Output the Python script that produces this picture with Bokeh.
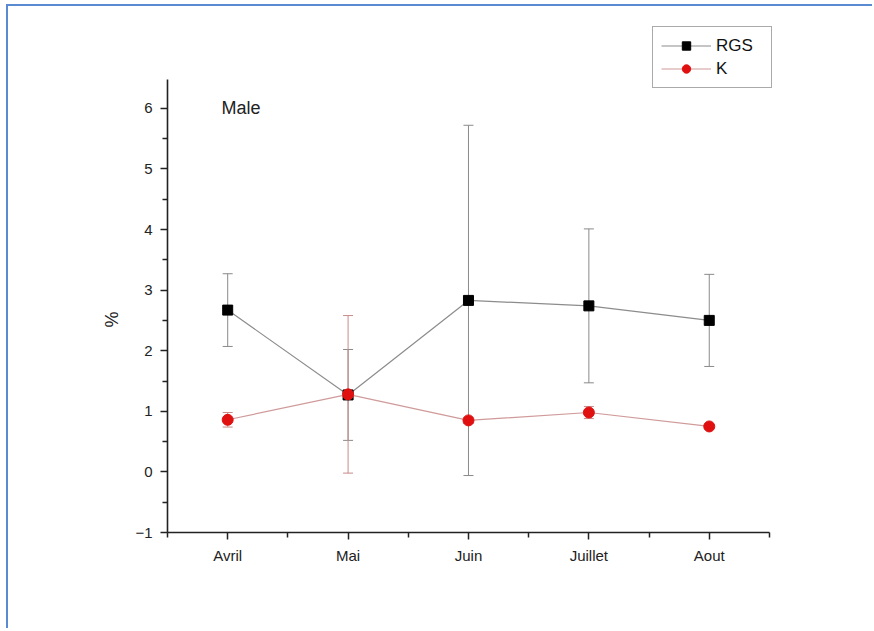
from bokeh.plotting import figure
from bokeh.models import (ColumnDataSource, Whisker, TeeHead, FixedTicker, Range1d,
                          Legend, LegendItem, Label)
from bokeh.embed import file_html
from bokeh.resources import INLINE

months = ["Avril", "Mai", "Juin", "Juillet", "Aout"]
rgs = [2.67, 1.27, 2.83, 2.74, 2.50]
rgs_err = [0.60, 0.75, 2.89, 1.27, 0.76]
k = [0.86, 1.28, 0.85, 0.98, 0.75]
k_err = [0.12, 1.30, 0.05, 0.10, 0.03]

xpos = list(range(1, len(months) + 1))

src_rgs = ColumnDataSource(dict(x=xpos, y=rgs,
                                lo=[v - e for v, e in zip(rgs, rgs_err)],
                                hi=[v + e for v, e in zip(rgs, rgs_err)]))
src_k = ColumnDataSource(dict(x=xpos, y=k,
                              lo=[v - e for v, e in zip(k, k_err)],
                              hi=[v + e for v, e in zip(k, k_err)]))

FONT = "Liberation Sans"

# frame spans beyond the axes so the legend (drawn inside the frame) fits
p = figure(frame_width=614, frame_height=506, output_backend="svg",
           toolbar_location=None, x_range=Range1d(0.5, 5.6), y_range=Range1d(-1, 7.35),
           min_border_left=159, min_border_top=20, min_border_right=91, min_border_bottom=96)
p.styles = {"border-top": "2px solid #5a8ad2", "border-left": "2px solid #5a8ad2",
            "margin-left": "6px", "margin-top": "4px"}
p.outline_line_color = None
p.xgrid.visible = False
p.ygrid.visible = False
p.background_fill_color = "white"
p.border_fill_color = "white"

# axes
p.xaxis.ticker = FixedTicker(ticks=xpos, minor_ticks=[0.5, 1.5, 2.5, 3.5, 4.5, 5.5])
p.xaxis.major_label_overrides = {i: m for i, m in zip(xpos, months)}
p.xaxis.bounds = (0.5, 5.5)
p.yaxis.ticker = FixedTicker(ticks=[-1, 0, 1, 2, 3, 4, 5, 6],
                             minor_ticks=[-0.5, 0.5, 1.5, 2.5, 3.5, 4.5, 5.5])
p.yaxis.bounds = (-1, 6.48)
for ax in (p.xaxis[0], p.yaxis[0]):
    ax.axis_line_width = 1.6
    ax.axis_line_color = "#222222"
    ax.major_tick_line_color = "#222222"
    ax.minor_tick_line_color = "#222222"
    ax.major_tick_line_width = 1.5
    ax.minor_tick_line_width = 1.5
    ax.major_tick_out = 7
    ax.major_tick_in = 0
    ax.minor_tick_out = 5
    ax.minor_tick_in = 0
    ax.major_label_text_font = FONT
    ax.major_label_text_color = "#222222"
p.xaxis.major_label_text_font_size = "15px"
p.yaxis.major_label_text_font_size = "15px"
p.xaxis.major_label_standoff = 7
p.yaxis.major_label_standoff = 8
p.yaxis.axis_label = "%" + "\u00a0" * 16
p.yaxis.axis_label_text_font = FONT
p.yaxis.axis_label_text_font_size = "18px"
p.yaxis.axis_label_text_font_style = "normal"
p.yaxis.axis_label_text_color = "#222222"
p.yaxis.axis_label_standoff = 10

# error bars
p.add_layout(Whisker(source=src_rgs, base="x", lower="lo", upper="hi",
                     line_color="#8a8a8a", line_width=1,
                     upper_head=TeeHead(size=10, line_color="#8a8a8a", line_width=1),
                     lower_head=TeeHead(size=10, line_color="#8a8a8a", line_width=1)))
p.add_layout(Whisker(source=src_k, base="x", lower="lo", upper="hi",
                     line_color="#c98a8a", line_width=1,
                     upper_head=TeeHead(size=10, line_color="#c98a8a", line_width=1),
                     lower_head=TeeHead(size=10, line_color="#c98a8a", line_width=1)))

# lines and markers
l1 = p.line("x", "y", source=src_rgs, line_color="#8c8c8c", line_width=1.2)
m1 = p.scatter("x", "y", source=src_rgs, marker="square", size=10,
               fill_color="black", line_color="black")
l2 = p.line("x", "y", source=src_k, line_color="#d09a9a", line_width=1.2)
m2 = p.scatter("x", "y", source=src_k, marker="circle", size=11,
               fill_color="#e01010", line_color="#e01010")

legend = Legend(items=[LegendItem(label="RGS", renderers=[l1, m1]),
                       LegendItem(label="K", renderers=[l2, m2])],
                location=(485, 444), glyph_width=50, glyph_height=21,
                label_text_font=FONT, label_text_font_size="17px",
                label_text_color="#111111", label_standoff=5, spacing=2,
                label_width=47, label_height=21,
                padding=8, margin=0, border_line_color="#555555",
                border_line_width=1.2, background_fill_alpha=1)
p.add_layout(legend, "center")

p.add_layout(Label(x=1.11, y=6.0, text="Male", text_font=FONT,
                   text_font_size="18px", text_color="#222222",
                   text_baseline="middle", text_align="center"))

open("out.html", "w").write(file_html(p, INLINE))
